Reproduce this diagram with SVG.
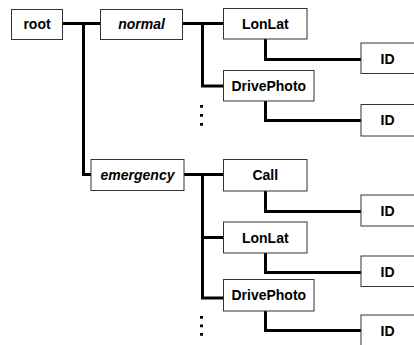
<svg xmlns="http://www.w3.org/2000/svg" width="414" height="345" viewBox="0 0 414 345">
<style>
.box{fill:#fff;stroke:#333;stroke-width:1}
.t{font-family:"Liberation Sans",Arial,sans-serif;font-size:14px;font-weight:bold;fill:#000;text-anchor:middle}
.i{font-style:italic}
.c{fill:none;stroke:#000;stroke-width:3;stroke-linejoin:miter;stroke-linecap:butt}
.dot{fill:#000}
</style>
<rect width="414" height="345" fill="#fff"/>
<g id="connectors">
<path class="c" d="M62.5 23.5H100.5M83.5 23.5V174.5H91"/>
<path class="c" d="M182.5 23.5H223M202.5 23.5V86H223"/>
<path class="c" d="M184 174.5H223M202.5 174.5V298H223M202.5 237.5H223"/>
<path class="c" d="M265.5 39V59.5H361"/>
<path class="c" d="M265.5 101V120.5H361"/>
<path class="c" d="M265.5 191V211.5H361"/>
<path class="c" d="M265.5 253V272.5H361"/>
<path class="c" d="M265.5 311V330.5H361"/>
<rect class="dot" x="200" y="105" width="3" height="2.7"/>
<rect class="dot" x="200" y="114" width="3" height="2.7"/>
<rect class="dot" x="200" y="123" width="3" height="2.7"/>
<rect class="dot" x="200" y="316" width="3" height="2.7"/>
<rect class="dot" x="200" y="324.5" width="3" height="2.7"/>
<rect class="dot" x="200" y="333" width="3" height="2.7"/>
</g>
<g id="root"><rect class="box" x="11.5" y="9.5" width="51" height="30"/><text class="t" x="37" y="29">root</text></g>
<g id="normal"><rect class="box" x="100.5" y="9.5" width="82" height="30"/><text class="t i" x="141.5" y="29">normal</text></g>
<g id="emergency"><rect class="box" x="91" y="159.5" width="93" height="31"/><text class="t i" x="137.5" y="180">emergency</text></g>
<g id="n-lonlat"><rect class="box" x="223.5" y="8.5" width="83.5" height="30.5"/><text class="t" x="265.3" y="29">LonLat</text></g>
<g id="n-drivephoto"><rect class="box" x="223.5" y="70.5" width="90.5" height="30.5"/><text class="t" x="268.8" y="91">DrivePhoto</text></g>
<g id="n-lonlat-id"><rect class="box" x="361" y="43" width="54" height="30.5"/><text class="t" x="387.5" y="63.5">ID</text></g>
<g id="n-drivephoto-id"><rect class="box" x="361" y="104.5" width="54" height="31.5"/><text class="t" x="387.5" y="125">ID</text></g>
<g id="e-call"><rect class="box" x="223.5" y="159.5" width="83.5" height="31.5"/><text class="t" x="265.3" y="180">Call</text></g>
<g id="e-lonlat"><rect class="box" x="223.5" y="222" width="83.5" height="31"/><text class="t" x="265.3" y="242.5">LonLat</text></g>
<g id="e-drivephoto"><rect class="box" x="223.5" y="279.5" width="90.5" height="31.5"/><text class="t" x="268.8" y="300">DrivePhoto</text></g>
<g id="e-call-id"><rect class="box" x="361" y="195" width="54" height="31"/><text class="t" x="387.5" y="216">ID</text></g>
<g id="e-lonlat-id"><rect class="box" x="361" y="256" width="54" height="30.5"/><text class="t" x="387.5" y="277">ID</text></g>
<g id="e-drivephoto-id"><rect class="box" x="361" y="315" width="54" height="35"/><text class="t" x="387.5" y="335.5">ID</text></g>
</svg>
